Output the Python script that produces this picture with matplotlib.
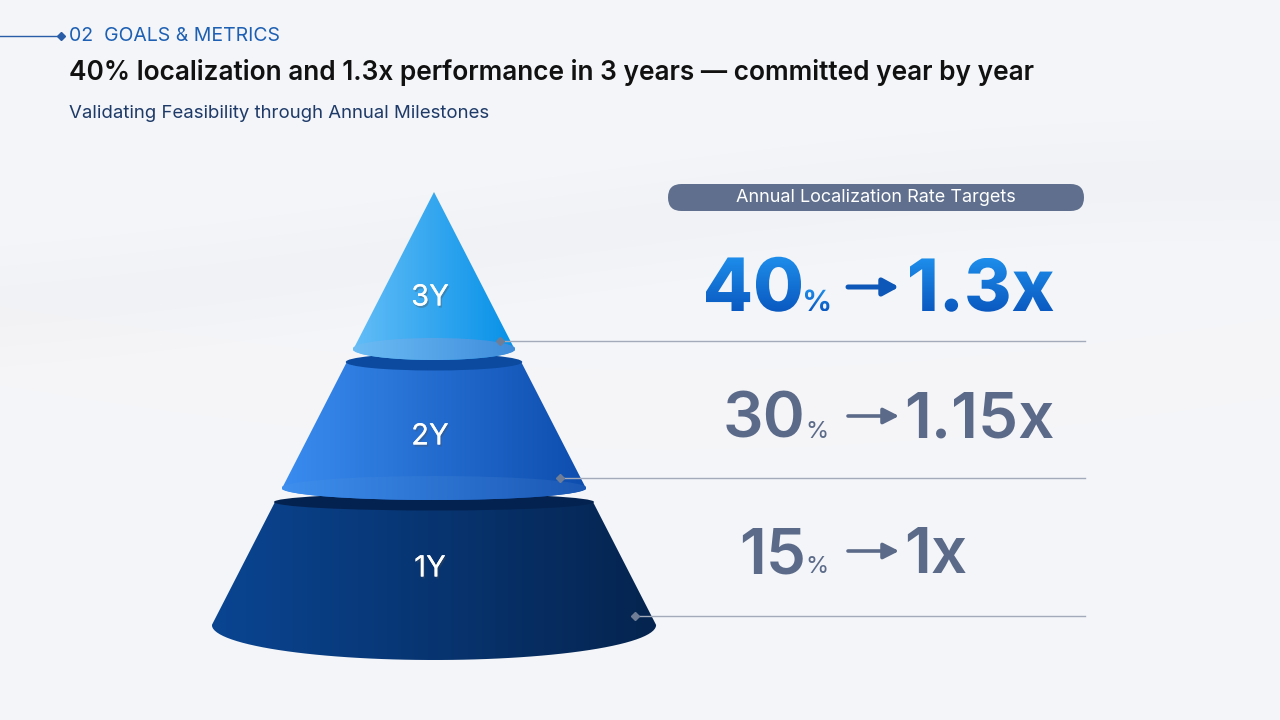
import numpy as np
import matplotlib
matplotlib.use("Agg")
import matplotlib.pyplot as plt
from matplotlib.patches import Ellipse, PathPatch, FancyBboxPatch
from matplotlib.path import Path
from matplotlib.colors import to_rgb
from matplotlib.textpath import TextPath
from matplotlib.font_manager import FontProperties
from matplotlib.transforms import Affine2D
import matplotlib.patheffects as pe

plt.rcParams['font.family'] = ['Inter', 'DejaVu Sans']

# ---- data ----
years = ["1Y", "2Y", "3Y"]
localization = [15, 30, 40]          # %
performance = [1.0, 1.15, 1.3]       # x
section_label = "02  GOALS & METRICS"
title = "40% localization and 1.3x performance in 3 years \u2014 committed year by year"
subtitle = "Validating Feasibility through Annual Milestones"
panel_label = "Annual Localization Rate Targets"

# ---- style / layout ----
BG = "#F3F5F8"
W, H = 1280, 720
fig = plt.figure(figsize=(12.8, 7.2), dpi=100, facecolor=BG)
ax = fig.add_axes([0, 0, 1, 1])
ax.axis("off")
ax.set_facecolor(BG)

# subtle background swooshes
xs = np.linspace(0, W, 200)
for (y0, amp, ph, a, c) in [(330, 80, 0.2, 0.30, "white"), (470, 60, 1.4, 0.25, "white"),
                            (250, 70, 2.2, 0.25, "#E9ECF1")]:
    yc = y0 + amp * np.sin(xs / W * 2.6 + ph)
    for k, w in enumerate([60, 40, 20]):
        ax.fill_between(xs, yc - w, yc + w, color=c, alpha=a / 3, lw=0, zorder=0)

def hgrad(c1, c2, n=256):
    a, b = np.array(to_rgb(c1)), np.array(to_rgb(c2))
    t = np.linspace(0, 1, n)[None, :, None]
    return a + (b - a) * t

def vgrad(c1, c2, n=256):
    a, b = np.array(to_rgb(c1)), np.array(to_rgb(c2))
    t = np.linspace(0, 1, n)[:, None, None]
    return np.repeat(a + (b - a) * t, 2, axis=1)

def fill_grad(patch, x0, x1, y0, y1, c1, c2, z, vertical=False):
    patch.set_facecolor("none")
    patch.set_edgecolor("none")
    ax.add_patch(patch)
    img = vgrad(c1, c2) if vertical else hgrad(c1, c2)
    im = ax.imshow(img, extent=(x0, x1, y1, y0), aspect="auto",
                   zorder=z, interpolation="bicubic")
    im.set_clip_path(patch)

def grad_text(s, x, by, size_pt, weight, ha, c1, c2, z):
    fp = FontProperties(family="Inter", weight=weight)
    tp = TextPath((0, 0), s, size=size_pt * 100 / 72, prop=fp)
    bb = tp.get_extents()
    x0 = x - bb.x1 if ha == "right" else x - bb.x0
    path = Affine2D().scale(1, -1).translate(x0, by).transform_path(tp)
    ext = path.get_extents()
    fill_grad(PathPatch(path), ext.x0, ext.x1, ext.y0, ext.y1, c1, c2, z, vertical=True)

# ---- pyramid geometry ----
cx, apex_y, slope = 434, 192, 0.513
tiers = {
    # name: (top_y, bottom_y, bottom arc half-height, body colours, cap colour, bottom ellipse colours)
    "1Y": (502, 625, 35, ("#0A4592", "#05244F"), "#04224F", None),
    "2Y": (362, 488, 12, ("#3A8CF0", "#0D4DAE"), "#0B4A9E", ("#3E8FEE", "#1B58B4")),
    "3Y": (None, 349, 11, ("#63BDF7", "#0691E8"), None, ("#6CBDF5", "#3F8CDB")),
}
labels_y = {"1Y": 569, "2Y": 437, "3Y": 298}
z = 2
for name in ["1Y", "2Y", "3Y"]:
    top, bot, b, (c1, c2), cap, bell = tiers[name]
    hw_b = slope * (bot - apex_y)
    arc_t = np.linspace(np.pi, 0, 60)
    arc = np.column_stack([cx + hw_b * np.cos(arc_t), bot + b * np.sin(arc_t)])
    if top is None:
        verts = [(cx, apex_y), (cx - hw_b, bot)] + [tuple(p) for p in arc] + [(cx + hw_b, bot), (cx, apex_y)]
        y_top = apex_y
    else:
        hw_t = slope * (top - apex_y)
        verts = [(cx - hw_t, top), (cx - hw_b, bot)] + [tuple(p) for p in arc] + [(cx + hw_b, bot), (cx + hw_t, top), (cx - hw_t, top)]
        y_top = top
    body = PathPatch(Path(verts))
    fill_grad(body, cx - hw_b, cx + hw_b, y_top, bot + b, c1, c2, z)
    if cap is not None:
        hw_t = slope * (top - apex_y)
        ax.add_patch(Ellipse((cx, top), 2 * hw_t + 2, 17, facecolor=cap, edgecolor="none", zorder=z + 0.5))
    if bell is not None:
        e = Ellipse((cx, bot), 2 * hw_b + 2, 2 * b)
        fill_grad(e, cx - hw_b, cx + hw_b, bot - b, bot + b, bell[0], bell[1], z + 0.6)
    ax.text(cx - 4, labels_y[name], name, ha="center", va="center", color="white",
            fontsize=21, zorder=z + 1,
            path_effects=[pe.withSimplePatchShadow(offset=(1, -1.5), alpha=0.35), pe.Normal()])
    z += 2

# ---- header ----
ax.plot([0, 60], [36, 36], color="#2A5DA8", lw=1, zorder=5)
ax.plot([61], [36], marker="D", ms=4, color="#2A5DA8", zorder=5)
ax.text(69, 36, section_label, ha="left", va="center", color="#1D5FB3", fontsize=14)
ax.text(69, 72, title, ha="left", va="center", color="#111111", fontsize=18.9, fontweight="semibold")
ax.text(69, 114, subtitle, ha="left", va="center", color="#1E3A68", fontsize=13.4)

# ---- right panel ----
pill = FancyBboxPatch((668, 184), 416, 27, boxstyle="round,pad=0,rounding_size=13.5",
                      facecolor="#5F6F8D", edgecolor="none", zorder=5)
ax.add_patch(pill)
ax.text(876, 197.5, panel_label, ha="center", va="center", color="white", fontsize=13, zorder=6)

line_y = {"3Y": 341, "2Y": 478, "1Y": 616}
line_x0 = {"3Y": 500, "2Y": 560, "1Y": 635}
for name in years:
    ax.plot([line_x0[name], 1085], [line_y[name]] * 2, color="#A3ABBB", lw=1, zorder=12)
    ax.plot([line_x0[name]], [line_y[name]], marker="D", ms=4.5, color="#6F7D96", zorder=13)

base_y = {"3Y": 311, "2Y": 438, "1Y": 573}
num_right = {"3Y": 801, "2Y": 806, "1Y": 806}
for name, loc, perf in zip(years, localization, performance):
    top = name == "3Y"
    by = base_y[name]
    xr = num_right[name]
    if top:
        grad_text(f"{loc}", xr, by, 53, "heavy", "right", "#1E8EEB", "#0A58C0", 14)
        grad_text("%", xr + 4, by, 21, "bold", "left", "#1E8EEB", "#0A58C0", 14)
        grad_text(f"{perf:g}x", 910, by, 52, "heavy", "left", "#1E8EEB", "#0A58C0", 14)
        acol, alw, ay, hw = "#0D57B8", 3.6, by - 24, 0.30
    else:
        col = "#5B6A88"
        ax.text(xr, by, f"{loc}", ha="right", va="baseline", color=col, fontsize=46,
                fontweight="semibold", zorder=14)
        ax.text(xr - 1, by, "%", ha="left", va="baseline", color=col, fontsize=17, zorder=14)
        ax.text(904, by, f"{perf:g}x", ha="left", va="baseline", color=col,
                fontsize=46, fontweight="semibold", zorder=14)
        acol, alw, ay, hw = col, 2.6, by - 22, 0.28
    ax.annotate("", xy=(899, ay), xytext=(848, ay),
                arrowprops=dict(arrowstyle=f"-|>,head_length=0.55,head_width={hw}", lw=alw,
                                color=acol, shrinkA=0, shrinkB=0, mutation_scale=17),
                zorder=14)

ax.set_xlim(0, W)
ax.set_ylim(H, 0)
fig.savefig("out.png", dpi=100, facecolor=BG)
